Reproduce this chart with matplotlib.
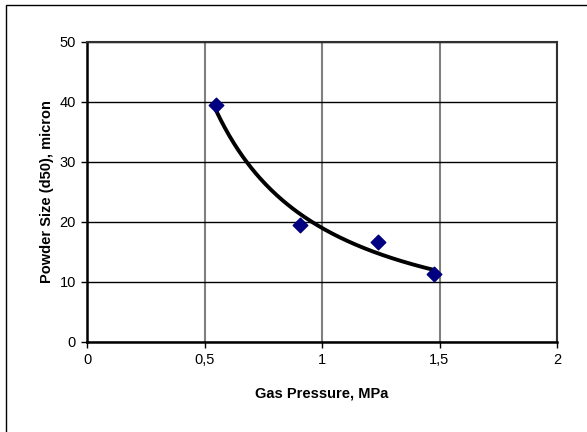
import numpy as np
import matplotlib.pyplot as plt
from matplotlib.patches import Rectangle

plt.rcParams['font.family'] = ['Liberation Sans', 'DejaVu Sans']

gas_pressure = [0.55, 0.905, 1.24, 1.475]
powder_size = [39.4, 19.4, 16.6, 11.3]

x_ticks = [0, 0.5, 1, 1.5, 2]
x_tick_labels = ['0', '0,5', '1', '1,5', '2']
y_ticks = [0, 10, 20, 30, 40, 50]

fig = plt.figure(figsize=(5.87, 4.32), dpi=100)
# outer chart-area frame (runs off the right/bottom edges)
fig.patches.append(Rectangle((6 / 587, -0.05), 1.1, 1 - 5 / 432 + 0.05,
                             transform=fig.transFigure, fill=False,
                             edgecolor='black', linewidth=1.0))

ax = fig.add_axes([87 / 587, 1 - 341.5 / 432, (557 - 87) / 587, (341.5 - 41.5) / 432])

# power trendline y = a * x^b, fitted like Excel does
b, log_a = np.polyfit(np.log(gas_pressure), np.log(powder_size), 1)
xs = np.linspace(min(gas_pressure), max(gas_pressure), 200)
ax.plot(xs, np.exp(log_a) * xs ** b, color='black', linewidth=2.8, zorder=3)

ax.scatter(gas_pressure, powder_size, marker='D', s=55, color='#000080', zorder=4)

ax.set_xlim(0, 2)
ax.set_ylim(0, 50)
ax.set_xticks(x_ticks)
ax.set_xticklabels(x_tick_labels)
ax.set_yticks(y_ticks)

ax.grid(axis='y', color='black', linewidth=1.0)
ax.grid(axis='x', color='#808080', linewidth=1.5)
ax.set_axisbelow(True)

for side in ['left', 'bottom']:
    ax.spines[side].set_linewidth(1.8)
for side in ['top', 'right']:
    ax.spines[side].set_linewidth(1.5)
    ax.spines[side].set_color('#303030')

ax.tick_params(direction='out', length=4, width=1, labelsize=10.5, pad=4)

ax.set_xlabel('Gas Pressure, MPa', fontsize=10.5, fontweight='bold', labelpad=14)
ax.set_ylabel('Powder Size (d50), micron', fontsize=10.5, fontweight='bold', labelpad=4)

fig.savefig('out.png', dpi=100)
